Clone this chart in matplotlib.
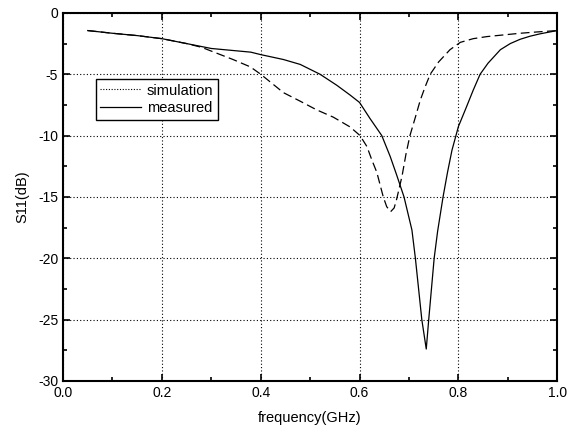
import matplotlib
matplotlib.use("Agg")
import matplotlib.pyplot as plt
from matplotlib.lines import Line2D
from matplotlib.ticker import MultipleLocator

plt.rcParams['font.family'] = ['Liberation Sans', 'DejaVu Sans']
plt.rcParams['axes.unicode_minus'] = False

# measured S11 (solid)
f_meas = [0.05, 0.1, 0.15, 0.2, 0.25, 0.3, 0.34, 0.38, 0.4, 0.446, 0.48, 0.52,
          0.554, 0.581, 0.6, 0.621, 0.645, 0.662, 0.675, 0.69, 0.706, 0.713,
          0.726, 0.735, 0.74, 0.751, 0.758, 0.769, 0.778, 0.787, 0.80, 0.815,
          0.83, 0.844, 0.86, 0.885, 0.905, 0.925, 0.945, 0.966, 1.0]
s_meas = [-1.44, -1.66, -1.85, -2.1, -2.5, -2.9, -3.05, -3.2, -3.4, -3.8, -4.2,
          -5.0, -5.9, -6.7, -7.3, -8.6, -10.0, -11.7, -13.2, -15.0, -17.7, -20.0,
          -25.0, -27.4, -25.0, -20.0, -17.8, -15.0, -13.0, -11.2, -9.27, -7.8,
          -6.3, -5.0, -4.1, -3.0, -2.5, -2.15, -1.9, -1.7, -1.44]

# simulation S11 (dashed)
f_sim = [0.05, 0.1, 0.15, 0.2, 0.25, 0.28, 0.344, 0.379, 0.4, 0.446, 0.48,
         0.513, 0.547, 0.581, 0.601, 0.615, 0.625, 0.635, 0.648, 0.655, 0.663,
         0.67, 0.675, 0.686, 0.694, 0.702, 0.713, 0.723, 0.733, 0.743, 0.76,
         0.783, 0.804, 0.83, 0.858, 0.89, 0.925, 0.96, 1.0]
s_sim = [-1.44, -1.66, -1.85, -2.1, -2.5, -2.8, -3.8, -4.4, -5.0, -6.5, -7.2,
         -7.9, -8.5, -9.3, -10.0, -10.9, -12.0, -13.0, -15.0, -15.8, -16.2,
         -15.9, -15.2, -13.3, -11.5, -10.0, -8.5, -7.1, -6.0, -5.0, -4.0,
         -3.0, -2.4, -2.1, -1.93, -1.8, -1.66, -1.55, -1.44]

fig = plt.figure(figsize=(5.68, 4.45), dpi=100)
ax = fig.add_axes([0.111, 0.144, 0.870, 0.827])

ax.plot(f_sim, s_sim, color='black', lw=0.9, dashes=(7, 3.5))
ax.plot(f_meas, s_meas, color='black', lw=0.9)

ax.set_xlim(0, 1.0)
ax.set_ylim(-30, 0)
ax.xaxis.set_major_locator(MultipleLocator(0.2))
ax.xaxis.set_minor_locator(MultipleLocator(0.1))
ax.yaxis.set_major_locator(MultipleLocator(5))
ax.yaxis.set_minor_locator(MultipleLocator(2.5))
ax.xaxis.set_major_formatter(matplotlib.ticker.FormatStrFormatter('%.1f'))

ax.grid(True, which='major', color='black', lw=0.8, ls=(0, (1, 2)))
ax.tick_params(which='both', direction='in', top=True, right=True,
               labelsize=10, width=1.2)
ax.tick_params(which='major', length=5)
ax.tick_params(which='minor', length=3)
for sp in ax.spines.values():
    sp.set_linewidth(1.5)

ax.set_xlabel('frequency(GHz)', fontsize=10.5, labelpad=8)
ax.set_ylabel('S11(dB)', fontsize=10.5, labelpad=6)

handles = [Line2D([], [], color='black', lw=0.8, ls=(0, (1, 1.5))),
           Line2D([], [], color='black', lw=0.9)]
leg = ax.legend(handles, ['simulation', 'measured'], loc='upper left',
                bbox_to_anchor=(0.066, 0.82), fontsize=10.5, fancybox=False,
                framealpha=1, edgecolor='black', borderpad=0.3,
                handlelength=2.8, handletextpad=0.4, labelspacing=0.25,
                borderaxespad=0)
leg.get_frame().set_linewidth(1.0)

fig.savefig('out.png', dpi=100)
